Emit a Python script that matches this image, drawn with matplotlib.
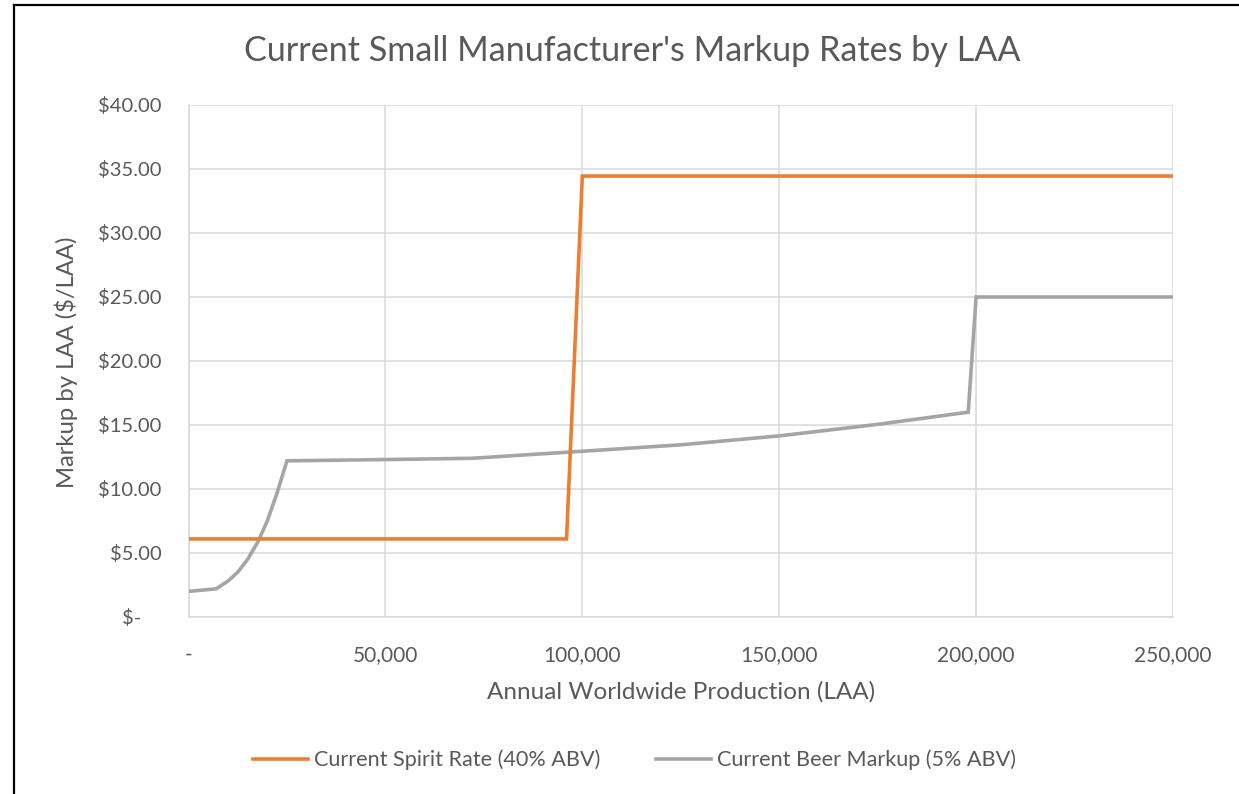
import matplotlib
matplotlib.use("Agg")
import matplotlib.pyplot as plt
from matplotlib.ticker import FuncFormatter, MultipleLocator
from matplotlib.lines import Line2D

plt.rcParams['font.family'] = ['Lato', 'DejaVu Sans']

# Annual production (LAA) and markup ($/LAA)
spirit_x = [0, 96000, 100000, 250000]
spirit_y = [6.1, 6.1, 34.45, 34.45]

beer_x = [0, 7000, 10000, 12500, 15000, 17500, 20000, 22500, 25000,
          50000, 72000, 100000, 125000, 150000, 175000, 198000, 200000, 250000]
beer_y = [2.0, 2.2, 2.8, 3.5, 4.5, 5.8, 7.5, 9.7, 12.2,
          12.3, 12.4, 12.95, 13.45, 14.15, 15.05, 16.0, 25.0, 25.0]

title = "Current Small Manufacturer's Markup Rates by LAA"
x_label = "Annual Worldwide Production (LAA)"
y_label = "Markup by LAA ($/LAA)"
spirit_name = "Current Spirit Rate (40% ABV)"
beer_name = "Current Beer Markup (5% ABV)"

ORANGE = "#ED7D31"
GREY = "#A5A5A5"
TEXT = "#595959"
GRID = "#D9D9D9"

fig = plt.figure(figsize=(12.39, 7.94), dpi=100)
ax = fig.add_axes([188.5 / 1239, 1 - 617 / 794, (1173 - 188.5) / 1239, (617 - 105) / 794])

ax.plot(beer_x, beer_y, color=GREY, lw=2.6, solid_joinstyle='miter', zorder=3)
ax.plot(spirit_x, spirit_y, color=ORANGE, lw=2.6, solid_joinstyle='miter', zorder=4)

ax.set_xlim(0, 250000)
ax.set_ylim(0, 40)
ax.xaxis.set_major_locator(MultipleLocator(50000))
ax.yaxis.set_major_locator(MultipleLocator(5))
ax.xaxis.set_major_formatter(FuncFormatter(lambda v, p: "-" if v == 0 else f"{v:,.0f}"))
ax.yaxis.set_major_formatter(FuncFormatter(lambda v, p: "$-    " if v == 0 else f"${v:,.2f}"))

ax.grid(True, color=GRID, lw=1.1)
ax.set_axisbelow(True)
for side in ['top', 'right']:
    ax.spines[side].set_visible(False)
for side in ['left', 'bottom']:
    ax.spines[side].set_color(GRID)
    ax.spines[side].set_linewidth(1.1)
ax.tick_params(length=0, labelcolor=TEXT)
ax.tick_params(axis='y', labelsize=14.5, pad=19.5)
ax.tick_params(axis='x', labelsize=15, pad=20)

ax.set_xlabel(x_label, fontsize=17.5, color=TEXT, labelpad=12)
ax.set_ylabel(y_label, fontsize=17.2, color=TEXT, labelpad=12)
ax.yaxis.set_label_coords((78 - 188.5) / (1173 - 188.5), (617 - 362) / (617 - 105))

fig.text(0.510, 1 - 51 / 794, title, ha='center', va='center', fontsize=24.6, color=TEXT)

handles = [Line2D([], [], color=ORANGE, lw=2.6), Line2D([], [], color=GREY, lw=2.6)]
fig.legend(handles, [spirit_name, beer_name], loc='center', bbox_to_anchor=(634.5 / 1239, 1 - 760 / 794),
           ncol=2, frameon=False, fontsize=15.6, labelcolor=TEXT, handlelength=2.5,
           handletextpad=0.28, columnspacing=2.6, borderpad=0, borderaxespad=0)

# chart frame edges
fig.add_artist(Line2D([14 / 1239, 1], [1 - 5 / 794, 1 - 5 / 794], color='black', lw=1.6,
                      transform=fig.transFigure))
fig.add_artist(Line2D([14 / 1239, 14 / 1239], [0, 1 - 5 / 794], color='black', lw=1.6,
                      transform=fig.transFigure))

fig.savefig("out.png", dpi=100, facecolor='white')
